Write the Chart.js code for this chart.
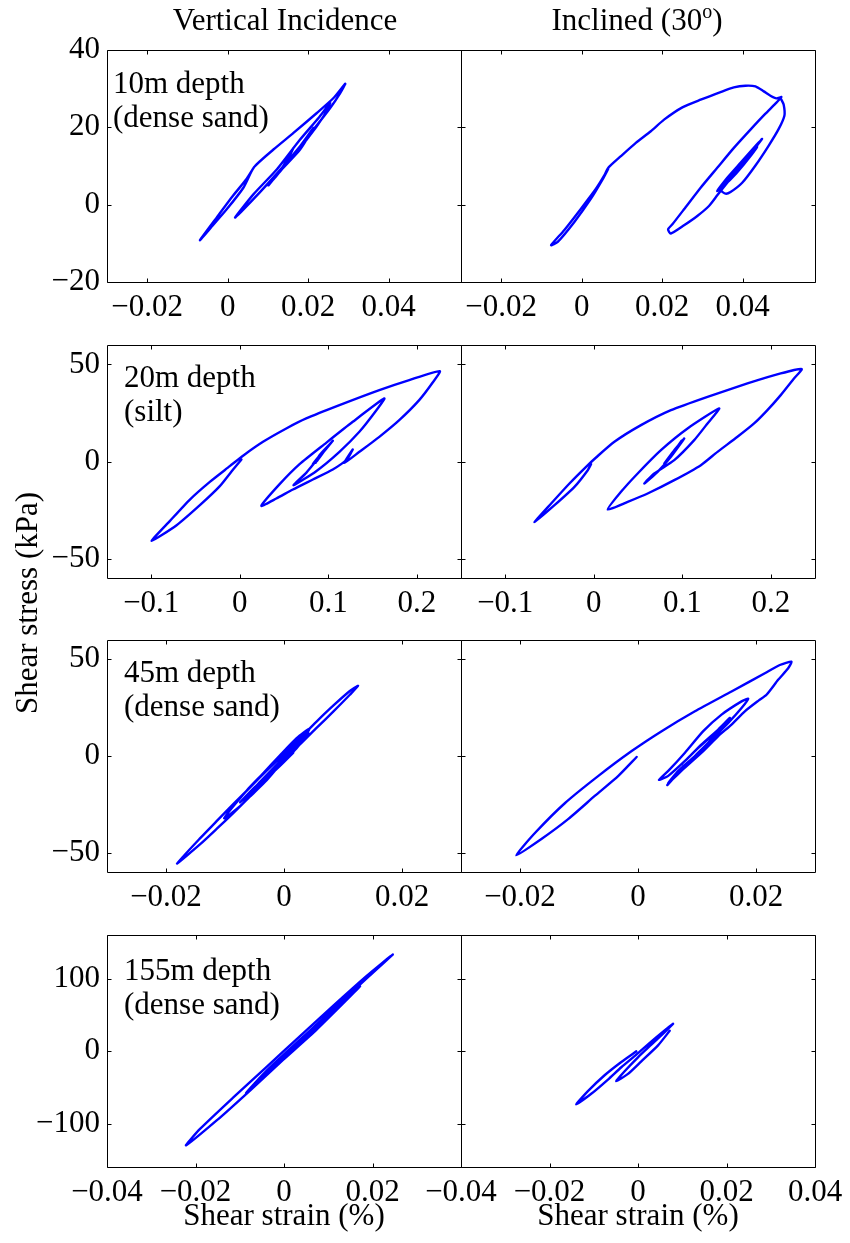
<!DOCTYPE html>
<html>
<head>
<meta charset="utf-8">
<title>Shear stress vs shear strain</title>
<script src="https://cdn.jsdelivr.net/npm/chart.js@4.4.0/dist/chart.umd.min.js"></script>
<style>
html, body { margin: 0; padding: 0; background: #fff; }
#wrap { position: relative; width: 850px; height: 1243px; }
#wrap canvas { position: absolute; left: 0; top: 0; }
</style>
</head>
<body>
<div id="wrap"></div>
<script>
// ---- data (strain in %, stress in kPa) ----
// 10m depth, vertical incidence
const strain10V = [0.00656, 0.00473, 0.00141, -0.00274, -0.00689, -0.0044, -0.00025, 0.0039, 0.00656, 0.01137, 0.01635, 0.02216, 0.02631, 0.02922, 0.02797, 0.02548, 0.02133, 0.01635, 0.01054, 0.00556, 0.00183, 0.00639, 0.0122, 0.018, 0.02258, 0.02548, 0.02382, 0.01967, 0.01469, 0.01013, 0.01386, 0.018, 0.02133, 0.018, 0.01345, 0.01137, 0.01469, 0.01635, 0.01428, 0.01303];
const stress10V = [9.71, 6.70, 2.41, -3.35, -9.19, -6.19, -1.20, 4.38, 9.71, 14.26, 18.56, 23.71, 27.58, 31.27, 28.87, 25.0, 19.42, 12.97, 6.1, 0.52, -3.35, 2.66, 9.1, 16.84, 22.42, 26.29, 22.85, 16.84, 10.82, 4.98, 9.97, 15.12, 19.85, 14.26, 9.1, 6.53, 11.25, 14.69, 10.82, 8.68];
// 10m depth, inclined 30
const strain10I = [0.00661, 0.00520, 0.00231, -0.00182, -0.00595, -0.00760, -0.00430, -0.00017, 0.00355, 0.00562, 0.00661, 0.00975, 0.01346, 0.01718, 0.02048, 0.02503, 0.02957, 0.03453, 0.03783, 0.04072, 0.04320, 0.04527, 0.04692, 0.04840, 0.04964, 0.04816, 0.04568, 0.04196, 0.03783, 0.03370, 0.02957, 0.02544, 0.02255, 0.02148, 0.02214, 0.02544, 0.02874, 0.03164, 0.03370, 0.03618, 0.03948, 0.04279, 0.04485, 0.04279, 0.03948, 0.03618, 0.03370, 0.03700, 0.04031, 0.04361, 0.04113, 0.03824, 0.03577, 0.03453, 0.03577, 0.03700, 0.03990, 0.04320, 0.04650, 0.04898, 0.05039, 0.05022, 0.04956];
const stress10I = [9.28, 6.53, 1.55, -4.47, -9.62, -10.48, -6.53, -1.03, 4.12, 7.56, 9.54, 12.54, 15.98, 18.99, 21.99, 25.17, 27.15, 29.12, 30.33, 30.76, 30.58, 29.30, 28.18, 27.49, 27.84, 26.12, 23.54, 19.42, 14.69, 9.54, 4.38, -1.20, -5.07, -6.36, -7.47, -5.33, -2.92, -0.34, 2.41, 5.67, 9.97, 14.26, 17.01, 14.69, 10.82, 6.96, 3.52, 6.53, 10.40, 14.95, 12.54, 8.68, 5.67, 3.78, 2.84, 3.26, 5.67, 10.14, 15.29, 19.59, 23.02, 25.86, 27.32];
// 20m depth, vertical incidence
const strain20V = [0.00188, -0.00751, -0.02253, -0.04506, -0.07135, -0.09951, -0.07886, -0.05633, -0.0338, -0.01127, 0.00451, 0.02629, 0.05257, 0.0751, 0.11265, 0.15771, 0.19151, 0.22605, 0.21779, 0.20277, 0.18024, 0.15771, 0.13518, 0.11828, 0.12767, 0.12091, 0.10514, 0.08261, 0.06008, 0.04131, 0.02441, 0.04506, 0.06759, 0.09763, 0.12767, 0.16334, 0.15396, 0.13518, 0.11265, 0.08637, 0.06083, 0.0751, 0.09012, 0.10514, 0.09763, 0.08637, 0.08261, 0.09388, 0.10326, 0.09012, 0.08562];
const stress20V = [1.03, -4.12, -12.71, -22.51, -32.82, -40.89, -30.58, -19.59, -10.48, -2.41, 3.26, 10.14, 17.01, 22.16, 29.03, 36.77, 41.92, 46.56, 40.54, 31.61, 21.30, 12.71, 4.98, -0.69, 6.18, 1.03, -4.12, -9.28, -14.43, -19.07, -22.85, -11.68, -1.37, 9.62, 20.44, 32.47, 26.11, 15.29, 4.98, -4.98, -12.20, -5.84, 2.41, 10.65, 6.70, -0.17, -1.37, 4.98, 9.62, 3.26, -0.69];
// 20m depth, inclined 30
const strain20I = [-0.00301, -0.00677, -0.0218, -0.04436, -0.06691, -0.04812, -0.02744, -0.00865, 0.00263, 0.02331, 0.05338, 0.08721, 0.12856, 0.17367, 0.21126, 0.23494, 0.22629, 0.21126, 0.19622, 0.18118, 0.16239, 0.13983, 0.12104, 0.09097, 0.0609, 0.03834, 0.01579, 0.03082, 0.04962, 0.07593, 0.106, 0.14171, 0.12856, 0.11352, 0.09097, 0.06841, 0.05714, 0.07217, 0.08721, 0.10225, 0.09097, 0.07969, 0.09473, 0.09924, 0.08345];
const stress20I = [-1.37, -4.47, -13.06, -22.51, -31.27, -21.65, -11.34, -2.75, 2.06, 10.14, 18.73, 26.46, 33.33, 40.20, 45.36, 47.59, 42.78, 34.19, 26.46, 19.59, 12.71, 4.98, -1.89, -9.62, -16.49, -20.79, -24.74, -15.63, -6.18, 5.84, 17.01, 27.32, 19.59, 11.0, 0.69, -6.18, -11.34, -5.33, 2.41, 11.85, 5.84, -1.03, 7.56, 10.65, 0.69];
// 45m depth, vertical incidence
const strain45V = [0, 0.0027, 0.00552, 0.00834, 0.01116, 0.01256, 0.01116, 0.00834, 0.00552, 0.0027, 0, -0.00293, -0.00575, -0.00856, -0.01138, -0.0142, -0.01814, -0.0142, -0.01138, -0.00856, -0.00575, -0.00293, 0, 0.0027, 0.00439, 0.00214, -0.00068, -0.00349, -0.00631, -0.01014, -0.00744, -0.00406, -0.00068, 0.00214, 0.00411, 0.00045, -0.00406, -0.00744, -0.00293, 0.00158, 0.00338, -0.0018, -0.00462, -0.00068, 0.00158];
const stress45V = [-1.37, 5.99, 14.55, 22.94, 31.67, 36.29, 33.6, 26.0, 17.8, 9.2, 1.0, -7.6, -16.2, -24.8, -33.6, -42.5, -55.64, -45.6, -37.6, -29.4, -20.9, -12.5, -2.05, 7.19, 14.38, 9.3, 0.4, -8.8, -17.8, -32.19, -25.9, -15.5, -4.9, 4.0, 11.98, 0.86, -13.35, -23.97, -11.64, 2.40, 8.90, -6.51, -16.09, -5.14, 1.71];
// 45m depth, inclined 30
const strain45I = [-0.00023, -0.00333, -0.00728, -0.01179, -0.01631, -0.02065, -0.01743, -0.01236, -0.00671, -0.00107, 0.00401, 0.00965, 0.01585, 0.0215, 0.02404, 0.02601, 0.02545, 0.02375, 0.02178, 0.02048, 0.01811, 0.01585, 0.0136, 0.01078, 0.00796, 0.0057, 0.00497, 0.00739, 0.01021, 0.01303, 0.01557, 0.0136, 0.01078, 0.00796, 0.00513, 0.00355, 0.00513, 0.00796, 0.01106, 0.01416, 0.01755, 0.01868, 0.01755, 0.01529, 0.01247, 0.00965, 0.00683, 0.00513, 0.00852, 0.0119, 0.01473, 0.01247, 0.00965, 0.00739];
const stress45I = [-0.51, -10.27, -20.54, -32.53, -42.80, -51.36, -39.72, -24.31, -10.27, 2.57, 12.84, 23.11, 33.38, 42.80, 47.08, 48.79, 45.37, 39.38, 31.67, 28.76, 23.11, 16.26, 10.27, 1.71, -5.99, -11.98, -15.07, -6.85, 1.71, 10.27, 19.69, 13.70, 5.99, -2.57, -10.27, -12.33, -7.70, 1.71, 12.84, 21.40, 28.25, 29.62, 24.82, 17.12, 8.56, 0, -7.70, -14.04, -4.28, 6.85, 16.26, 10.27, 2.57, -4.28];
// 155m depth, vertical incidence
const strain155V = [0, 0.01115, 0.02456, 0.01868, 0.01115, 0.00362, -0.00392, -0.01145, -0.01898, -0.02215, -0.01522, -0.00768, -0.00015, 0.00738, 0.01718, 0.01115, 0.00362, -0.00392, -0.00859, -0.00392, 0.00362, 0.01115, 0.01567, 0.00964, 0.00211, -0.00392, 0.00362, 0.00964];
const stress155V = [-5.52, 58.39, 132.88, 103.5, 62.5, 20.5, -21.8, -64.0, -107.5, -130.12, -95.8, -54.5, -12.0, 29.5, 89.20, 57.02, 15.63, -27.13, -57.93, -30.35, 11.04, 53.80, 80.01, 47.82, 5.06, -28.05, 13.33, 46.44];
// 155m depth, inclined 30
const strain155I = [-0.00038, -0.00377, -0.00755, -0.01132, -0.01396, -0.01057, -0.00679, -0.00377, -0.00038, 0.00377, 0.00792, 0.00604, 0.00302, 0, -0.00302, -0.00491, -0.00226, 0.00075, 0.00453, 0.00717];
const stress155I = [-0.46, -15.10, -33.41, -55.38, -73.69, -59.04, -39.36, -22.43, -5.03, 16.93, 37.53, 26.09, 8.70, -8.70, -27.92, -41.65, -31.58, -14.19, 7.78, 27.92];

// ---- tick values ----
const xTicks10 = [-0.02, 0, 0.02, 0.04];
const yTicks10 = [-20, 0, 20, 40];
const xTicks20 = [-0.1, 0, 0.1, 0.2];
const yTicks20 = [-50, 0, 50];
const xTicks45 = [-0.02, 0, 0.02];
const yTicks45 = [-50, 0, 50];
const xTicks155L = [-0.04, -0.02, 0, 0.02];
const xTicks155R = [-0.04, -0.02, 0, 0.02, 0.04];
const yTicks155 = [-100, 0, 100];

// ---- page layout (pixels) ----
const W = 850, H = 1243;
const YW = 100, XH = 60;
const colLeft = [107, 461], colRight = [461, 815];
const rowTop = [50, 345, 640, 935], rowBottom = [282, 578, 872, 1167];
const FONT = "'Liberation Serif', 'Times New Roman', Times, serif";
const FS = 31;

Chart.defaults.font.family = FONT;
Chart.defaults.color = '#000';

function fmt(v) {
    if (v === 0) return '0';
    const s = String(Math.abs(+v.toFixed(4)));
    return (v < 0 ? '\u2212' : '') + s;
}

// frame with inward ticks on all four sides, plus free text
const framePlugin = {
    id: 'frame',
    afterDraw(chart, args, opts) {
        const ctx = chart.ctx;
        const a = chart.chartArea;
        const xs = chart.scales.x, ys = chart.scales.y;
        const l = Math.round(a.left) + 0.5, r = Math.round(a.right) + 0.5;
        const t = Math.round(a.top) + 0.5, b = Math.round(a.bottom) + 0.5;
        const tl = 4;
        ctx.save();
        ctx.strokeStyle = '#000';
        ctx.lineWidth = 1;
        ctx.beginPath();
        ctx.rect(l, t, r - l, b - t);
        xs.ticks.forEach(tk => {
            const px = Math.round(xs.getPixelForValue(tk.value)) + 0.5;
            ctx.moveTo(px, b); ctx.lineTo(px, b - tl);
            ctx.moveTo(px, t); ctx.lineTo(px, t + tl);
        });
        ys.ticks.forEach(tk => {
            const py = Math.round(ys.getPixelForValue(tk.value)) + 0.5;
            ctx.moveTo(l, py); ctx.lineTo(l + tl, py);
            ctx.moveTo(r, py); ctx.lineTo(r - tl, py);
        });
        ctx.stroke();

        (opts.texts || []).forEach(item => {
            ctx.save();
            ctx.fillStyle = '#000';
            ctx.textBaseline = 'alphabetic';
            ctx.textAlign = 'left';
            ctx.translate(item.x, item.y);
            if (item.rotate) ctx.rotate(item.rotate);
            const parts = item.parts || [{ text: item.text }];
            let total = 0;
            parts.forEach(p => {
                ctx.font = (p.size || FS) + 'px ' + FONT;
                p.w = ctx.measureText(p.text).width;
                total += p.w;
            });
            let x0 = item.align === 'center' ? -total / 2 : 0;
            parts.forEach(p => {
                ctx.font = (p.size || FS) + 'px ' + FONT;
                ctx.fillText(p.text, x0, p.dy || 0);
                x0 += p.w;
            });
            ctx.restore();
        });
        ctx.restore();
    }
};

const panels = [
    { strain: strain10V, stress: stress10V, row: 0, col: 0, xr: [-0.03, 0.058], yr: [-20, 40], xt: xTicks10, yt: yTicks10,
      texts: [{ text: '10m depth', x: 113, y: 93 }, { text: '(dense sand)', x: 113, y: 127 },
              { text: 'Vertical Incidence', x: 285, y: 30, align: 'center' }] },
    { strain: strain10I, stress: stress10I, row: 0, col: 1, xr: [-0.03, 0.058], yr: [-20, 40], xt: xTicks10, yt: yTicks10,
      texts: [{ parts: [{ text: 'Inclined (30' }, { text: 'o', size: 20, dy: -12 }, { text: ')' }], x: 637, y: 30, align: 'center' }] },
    { strain: strain20V, stress: stress20V, row: 1, col: 0, xr: [-0.15, 0.25], yr: [-60, 60], xt: xTicks20, yt: yTicks20,
      texts: [{ text: '20m depth', x: 124, y: 387 }, { text: '(silt)', x: 124, y: 421 },
              { text: 'Shear stress (kPa)', x: 37, y: 603, align: 'center', rotate: -Math.PI / 2 }] },
    { strain: strain20I, stress: stress20I, row: 1, col: 1, xr: [-0.15, 0.25], yr: [-60, 60], xt: xTicks20, yt: yTicks20, texts: [] },
    { strain: strain45V, stress: stress45V, row: 2, col: 0, xr: [-0.03, 0.03], yr: [-60, 60], xt: xTicks45, yt: yTicks45,
      texts: [{ text: '45m depth', x: 124, y: 682 }, { text: '(dense sand)', x: 124, y: 716 }] },
    { strain: strain45I, stress: stress45I, row: 2, col: 1, xr: [-0.03, 0.03], yr: [-60, 60], xt: xTicks45, yt: yTicks45, texts: [] },
    { strain: strain155V, stress: stress155V, row: 3, col: 0, xr: [-0.04, 0.04], yr: [-160, 160], xt: xTicks155L, yt: yTicks155,
      texts: [{ text: '155m depth', x: 124, y: 980 }, { text: '(dense sand)', x: 124, y: 1014 },
              { text: 'Shear strain (%)', x: 284, y: 1225, align: 'center' }] },
    { strain: strain155I, stress: stress155I, row: 3, col: 1, xr: [-0.04, 0.04], yr: [-160, 160], xt: xTicks155R, yt: yTicks155,
      texts: [{ text: 'Shear strain (%)', x: 638, y: 1225, align: 'center' }] }
];

function makeChart(p) {
    const canvas = document.createElement('canvas');
    canvas.width = W;
    canvas.height = H;
    canvas.style.width = W + 'px';
    canvas.style.height = H + 'px';
    document.getElementById('wrap').appendChild(canvas);

    const L = colLeft[p.col], R = colRight[p.col];
    const T = rowTop[p.row], B = rowBottom[p.row];
    const n = Math.min(p.strain.length, p.stress.length);
    const pts = [];
    for (let i = 0; i < n; i++) pts.push({ x: p.strain[i], y: p.stress[i] });

    new Chart(canvas, {
        type: 'scatter',
        data: {
            datasets: [{
                data: pts,
                showLine: true,
                borderColor: '#0000ff',
                borderWidth: 2.4,
                pointRadius: 0,
                tension: 0.2,
                borderJoinStyle: 'round',
                borderCapStyle: 'round'
            }]
        },
        options: {
            responsive: false,
            animation: false,
            devicePixelRatio: 1,
            events: [],
            layout: { padding: { left: L - YW, right: W - R, top: T, bottom: H - B - XH } },
            plugins: {
                legend: { display: false },
                tooltip: { enabled: false },
                frame: { texts: p.texts }
            },
            scales: {
                x: {
                    type: 'linear',
                    position: 'bottom',
                    bounds: 'data',
                    min: p.xr[0],
                    max: p.xr[1],
                    grid: { display: false, drawTicks: false },
                    border: { display: false },
                    ticks: { padding: 7, font: { size: FS }, color: '#000', maxRotation: 0, autoSkip: false, callback: v => fmt(v) },
                    afterBuildTicks: s => { s.ticks = p.xt.map(v => ({ value: v })); },
                    afterFit: s => { s.height = XH; s.paddingLeft = 0; s.paddingRight = 0; }
                },
                y: {
                    type: 'linear',
                    position: 'left',
                    bounds: 'data',
                    min: p.yr[0],
                    max: p.yr[1],
                    grid: { display: false, drawTicks: false },
                    border: { display: false },
                    ticks: { display: p.col === 0, padding: 7, font: { size: FS }, color: '#000', autoSkip: false, callback: v => fmt(v) },
                    afterBuildTicks: s => { s.ticks = p.yt.map(v => ({ value: v })); },
                    afterFit: s => { s.width = YW; s.paddingTop = 0; s.paddingBottom = 0; }
                }
            }
        },
        plugins: [framePlugin]
    });
}

panels.forEach(makeChart);
</script>
</body>
</html>
